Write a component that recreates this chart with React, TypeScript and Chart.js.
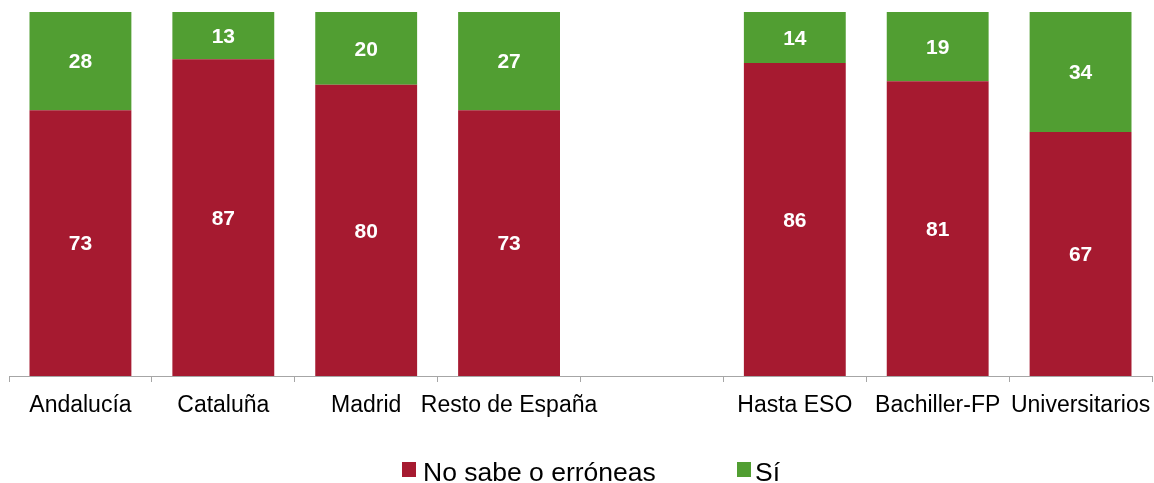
import React, { useEffect, useRef } from "react";
import { Chart, registerables } from "chart.js";

Chart.register(...registerables);

const categories = ["Andalucía", "Cataluña", "Madrid", "Resto de España", "", "Hasta ESO", "Bachiller-FP", "Universitarios"];
const noSabe = [73, 87, 80, 73, null, 86, 81, 67];
const si = [28, 13, 20, 27, null, 14, 19, 34];
const seriesNames = ["No sabe o erróneas", "Sí"];
const seriesColors = ["#A61A30", "#519E32"];

const FONT = "'Liberation Sans', Arial, Helvetica, sans-serif";

const valueLabels = {
  id: "valueLabels",
  afterDatasetsDraw(chart: any) {
    const ctx = chart.ctx;
    const area = chart.chartArea;
    ctx.save();
    ctx.fillStyle = "#ffffff";
    ctx.font = `bold 21px ${FONT}`;
    ctx.textAlign = "center";
    ctx.textBaseline = "middle";
    chart.data.datasets.forEach((ds: any, di: number) => {
      const meta = chart.getDatasetMeta(di);
      meta.data.forEach((el: any, i: number) => {
        const v = ds.data[i];
        if (v == null) return;
        const top = Math.max(Math.min(el.y, el.base), area.top);
        const bot = Math.min(Math.max(el.y, el.base), area.bottom);
        ctx.fillText(String(v), el.x, (top + bot) / 2 + 1.5);
      });
    });
    ctx.restore();
  },
};

const legendText: React.CSSProperties = {
  position: "absolute",
  top: 459,
  fontFamily: FONT,
  fontSize: 26.5,
  lineHeight: 1,
  color: "#000",
  whiteSpace: "nowrap",
};

const legendBox: React.CSSProperties = {
  position: "absolute",
  top: 462,
  width: 14,
  height: 15,
};

export default function App() {
  const ref = useRef<HTMLCanvasElement | null>(null);
  useEffect(() => {
    document.body.style.margin = "0";
    if (!ref.current) return;
    const chart = new Chart(ref.current, {
      type: "bar",
      data: {
        labels: categories,
        datasets: [
          { label: seriesNames[0], data: noSabe as any, backgroundColor: seriesColors[0], categoryPercentage: 1, barPercentage: 0.713 },
          { label: seriesNames[1], data: si as any, backgroundColor: seriesColors[1], categoryPercentage: 1, barPercentage: 0.713 },
        ],
      },
      options: {
        animation: false,
        responsive: false,
        maintainAspectRatio: false,
        layout: { padding: { top: 12, left: 9, right: 2, bottom: 47 } },
        plugins: { legend: { display: false }, tooltip: { enabled: false } },
        scales: {
          x: {
            stacked: true,
            offset: true,
            border: { display: true, color: "#A6A6A6", width: 1 },
            grid: { display: true, offset: true, drawOnChartArea: false, drawTicks: true, tickLength: 6, color: "#A6A6A6" },
            ticks: { color: "#000000", font: { family: FONT, size: 23 }, padding: 10, maxRotation: 0, autoSkip: false },
            afterFit: (s: any) => {
              s.height = 60;
              s.paddingLeft = 0;
              s.paddingRight = 0;
            },
          },
          y: {
            stacked: true,
            display: false,
            min: 0,
            max: 100,
          },
        },
      },
      plugins: [valueLabels],
    });
    return () => chart.destroy();
  }, []);

  return (
    <div style={{ position: "relative", width: 1154, height: 483, background: "#fff", overflow: "hidden" }}>
      <canvas ref={ref} width={1154} height={483} style={{ display: "block" }} />
      <span style={{ ...legendBox, left: 402, background: seriesColors[0] }} />
      <span style={{ ...legendText, left: 423 }}>{seriesNames[0]}</span>
      <span style={{ ...legendBox, left: 737, background: seriesColors[1] }} />
      <span style={{ ...legendText, left: 755 }}>{seriesNames[1]}</span>
    </div>
  );
}
